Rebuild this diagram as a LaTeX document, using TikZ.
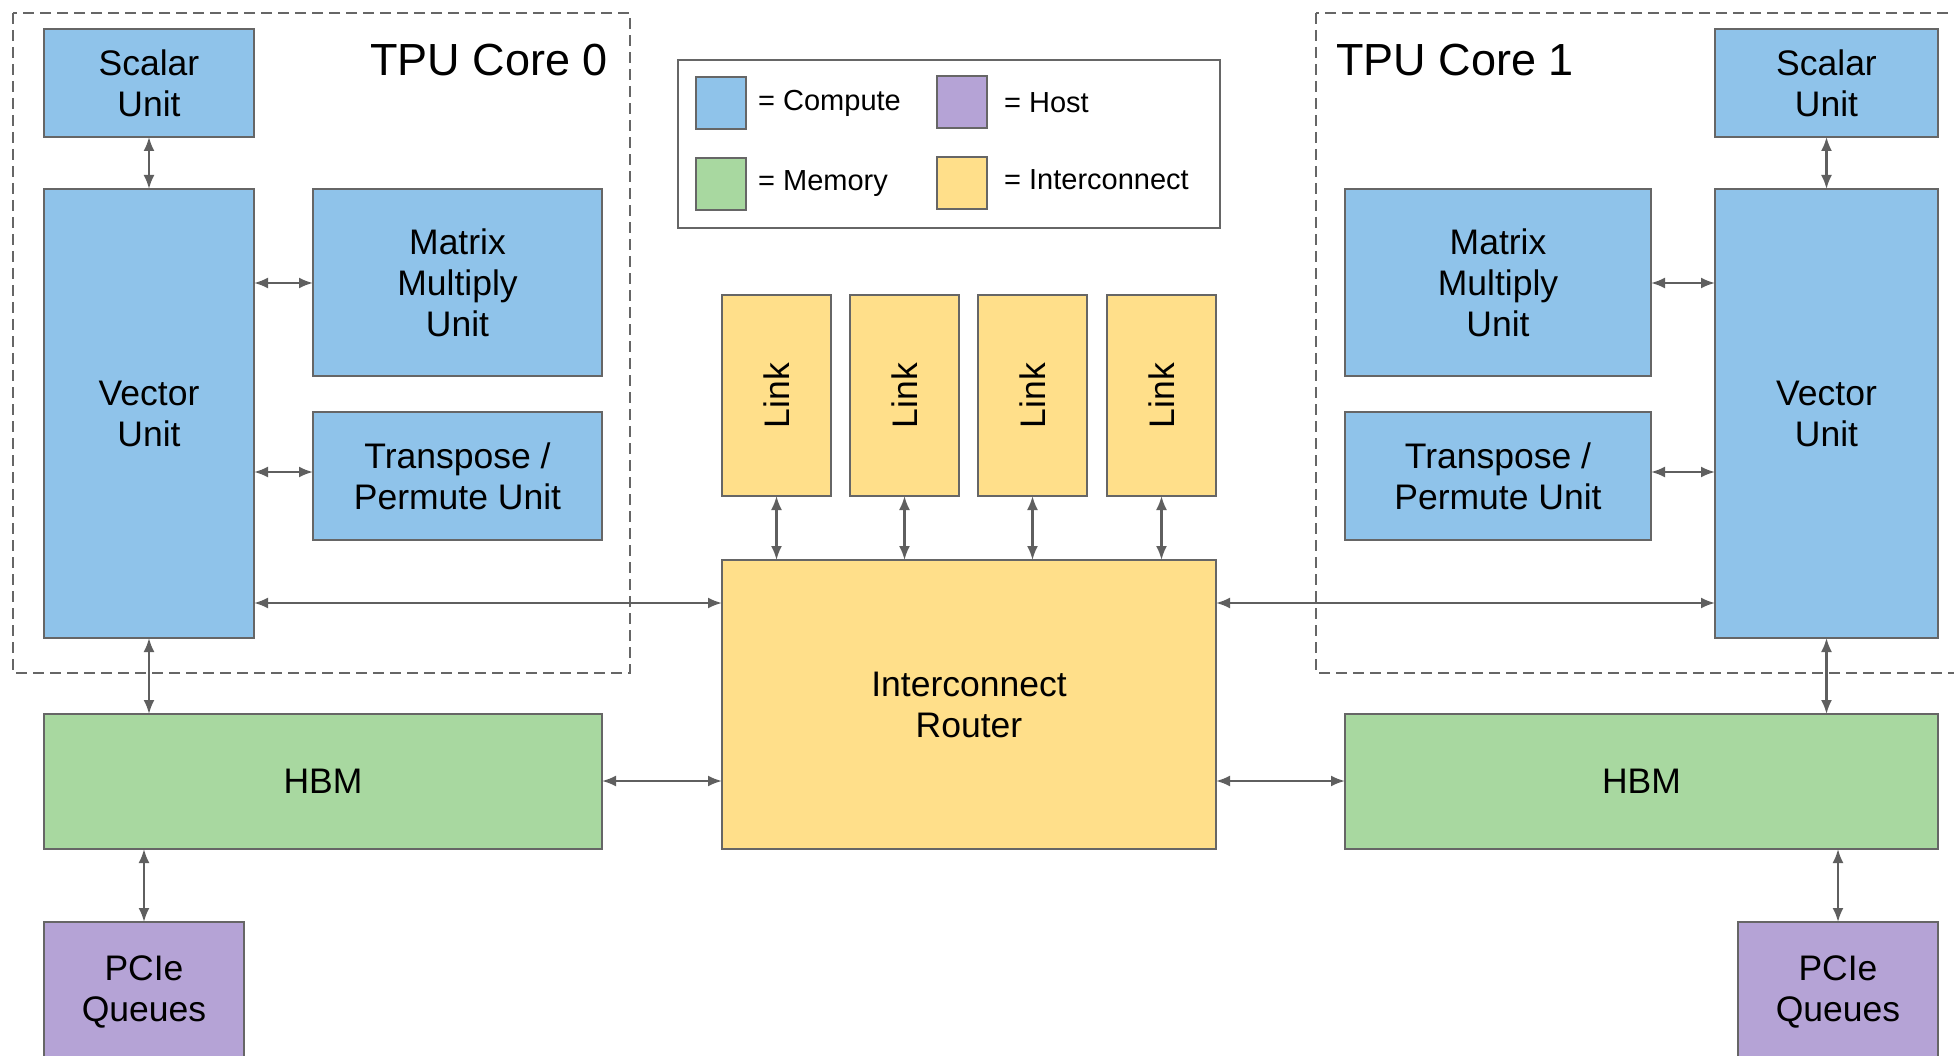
\documentclass[tikz,border=0pt]{standalone}
\usepackage{fontspec}
\setmainfont{Liberation Sans}
\usetikzlibrary{arrows.meta}
\definecolor{cblue}{HTML}{8FC3EA}
\definecolor{cgreen}{HTML}{A8D8A0}
\definecolor{cyellow}{HTML}{FFDF8A}
\definecolor{cpurple}{HTML}{B5A3D6}
\definecolor{bordergray}{HTML}{666666}
\definecolor{arrowgray}{HTML}{5F5F5F}
\begin{document}
\begin{tikzpicture}[x=1pt,y=-1pt,
  blk/.style={draw=bordergray, line width=1.7pt, inner sep=0pt, outer sep=0pt,
    align=center, anchor=north west, font=\fontsize{35.5}{41}\selectfont},
  swatch/.style={draw=bordergray, line width=1.7pt, inner sep=0pt, outer sep=0pt,
    minimum width=50pt, minimum height=52pt, anchor=north west},
  legtext/.style={anchor=west, inner sep=0pt, font=\fontsize{29}{34}\selectfont},
  conn/.style={draw=arrowgray, line width=2.2pt,
    {Latex[length=14pt,width=11pt]}-{Latex[length=14pt,width=11pt]}},
  corebox/.style={draw=bordergray, line width=1.7pt, dash pattern=on 11pt off 6pt},
  title/.style={inner sep=0pt, font=\fontsize{45}{54}\selectfont}
]
\useasboundingbox (0,0) rectangle (1954,1056);

% core outlines
\draw[corebox] (13,13) rectangle (630,673);
\draw[corebox] (1316,13) rectangle (1975,673);
\node[title, anchor=east] (title0) at (608,60) {TPU Core 0};
\node[title, anchor=west] (title1) at (1336,60) {TPU Core 1};

% legend
\node[draw=bordergray, line width=1.7pt, minimum width=542pt, minimum height=168pt,
  anchor=north west, inner sep=0pt] (legend) at (677,59) {};
\node[swatch, fill=cblue] (lc) at (696,77) {};
\node[swatch, fill=cgreen] (lm) at (696,158) {};
\node[swatch, fill=cpurple] (lh) at (937,76) {};
\node[swatch, fill=cyellow] (li) at (937,157) {};
\node[legtext] (lct) at (758,103) {= Compute};
\node[legtext] (lmt) at (758,184) {= Memory};
\node[legtext] (lht) at (1004,103) {= Host};
\node[legtext] (lit) at (1004,180) {= Interconnect};

% core 0
\node[blk, fill=cblue, minimum width=210pt, minimum height=108pt] (s0) at (44,29) {Scalar\\Unit};
\node[blk, fill=cblue, minimum width=210pt, minimum height=449pt] (v0) at (44,189) {Vector\\Unit};
\node[blk, fill=cblue, minimum width=289pt, minimum height=187pt] (m0) at (313,189) {Matrix\\Multiply\\Unit};
\node[blk, fill=cblue, minimum width=289pt, minimum height=128pt] (t0) at (313,412) {Transpose /\\Permute Unit};
\node[blk, fill=cgreen, minimum width=558pt, minimum height=135pt] (h0) at (44,714) {HBM};
\node[blk, fill=cpurple, minimum width=200pt, minimum height=140pt] (p0) at (44,922) {PCIe\\Queues};

% core 1
\node[blk, fill=cblue, minimum width=223pt, minimum height=108pt] (s1) at (1715,29) {Scalar\\Unit};
\node[blk, fill=cblue, minimum width=223pt, minimum height=449pt] (v1) at (1715,189) {Vector\\Unit};
\node[blk, fill=cblue, minimum width=306pt, minimum height=187pt] (m1) at (1345,189) {Matrix\\Multiply\\Unit};
\node[blk, fill=cblue, minimum width=306pt, minimum height=128pt] (t1) at (1345,412) {Transpose /\\Permute Unit};
\node[blk, fill=cgreen, minimum width=593pt, minimum height=135pt] (h1) at (1345,714) {HBM};
\node[blk, fill=cpurple, minimum width=200pt, minimum height=140pt] (p1) at (1738,922) {PCIe\\Queues};

% interconnect
\node[blk, fill=cyellow, minimum width=494pt, minimum height=289pt] (r) at (722,560) {Interconnect\\Router};
\foreach \i/\x in {1/722,2/850,3/978,4/1107}{
  \node[blk, fill=cyellow, minimum width=109pt, minimum height=201pt] (l\i) at (\x,295) {};
  \node[rotate=90, inner sep=0pt, font=\fontsize{35.5}{41}\selectfont] (lt\i) at (l\i.center) {Link};
}

% connectors core 0
\draw[conn] (s0.south) -- (v0.north);
\draw[conn] (v0.east |- 0,283) -- (m0.west |- 0,283);
\draw[conn] (v0.east |- 0,472) -- (t0.west |- 0,472);
\draw[conn] (v0.east |- 0,603) -- (r.west |- 0,603);
\draw[conn] (v0.south) -- (h0.north -| v0.south);
\draw[conn] (h0.east |- 0,781) -- (r.west |- 0,781);
\draw[conn] (h0.south -| p0.north) -- (p0.north);

% connectors core 1
\draw[conn] (s1.south) -- (v1.north);
\draw[conn] (m1.east |- 0,283) -- (v1.west |- 0,283);
\draw[conn] (t1.east |- 0,472) -- (v1.west |- 0,472);
\draw[conn] (r.east |- 0,603) -- (v1.west |- 0,603);
\draw[conn] (v1.south) -- (h1.north -| v1.south);
\draw[conn] (r.east |- 0,781) -- (h1.west |- 0,781);
\draw[conn] (h1.south -| p1.north) -- (p1.north);

% links
\foreach \i in {1,2,3,4}{
  \draw[conn] (l\i.south) -- (r.north -| l\i.south);
}
\end{tikzpicture}
\end{document}
